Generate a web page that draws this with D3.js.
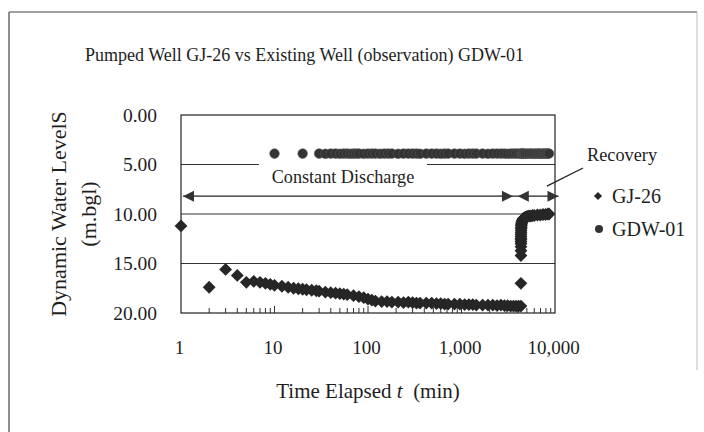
<!DOCTYPE html>
<html><head><meta charset="utf-8">
<script src="https://cdn.jsdelivr.net/npm/d3@7"></script>
<style>
html,body{margin:0;padding:0;background:#fff;}
svg{display:block;}
svg text{font-family:"Liberation Serif","Times New Roman",serif !important;fill:#1e1e1e;}
</style></head>
<body>
<svg id="chart" width="704" height="432"></svg>
<script>
// ---- data ----
const xTicks = [1, 10, 100, 1000, 10000];
const yTicks = [0, 5, 10, 15, 20];

// GJ-26 (pumped well) – pumping phase
const gjPumpT = [1,2,3,4,5,6,7,8,9,10,12,14,16,18,20,22,25,28,30,35,40,45,50,55,60,70,80,90,100,110,120,140,160,180,210,240,270,300,330,360,420,480,540,600,660,720,840,960,1080,1200,1320,1440,1680,1920,2160,2400,2640,2880,3120,3360,3600,3840,4080,4320];
const gjPumpS = [11.2,17.4,15.6,16.2,16.9,16.8,16.9,17.0,17.1,17.2,17.3,17.4,17.5,17.55,17.6,17.65,17.7,17.75,17.8,17.9,17.95,18.0,18.05,18.1,18.15,18.25,18.35,18.45,18.6,18.7,18.8,18.85,18.85,18.9,18.9,18.95,18.9,18.95,19.0,19.0,19.0,19.0,19.05,19.05,19.1,19.1,19.1,19.1,19.15,19.15,19.15,19.2,19.2,19.2,19.2,19.25,19.2,19.25,19.25,19.3,19.3,19.3,19.3,19.3];
// GJ-26 – recovery phase (total elapsed time)
const gjRecT = [4321,4322,4323,4324,4325,4326,4327,4328,4330,4332,4335,4340,4345,4350,4360,4370,4380,4400,4430,4460,4500,4560,4620,4680,4800,4920,5040,5280,5520,5760,6000,6480,6960,7440,7920,8400,8640];
const gjRecS = [17.0,14.2,13.7,13.3,13.0,12.8,12.6,12.5,12.3,12.1,11.9,11.7,11.5,11.4,11.2,11.1,11.0,10.9,10.8,10.7,10.6,10.5,10.45,10.4,10.35,10.3,10.25,10.2,10.2,10.15,10.15,10.1,10.1,10.05,10.05,10.0,10.0];

// GDW-01 (observation well)
const gdwT = [10,20,30,35,40,45,50,55,60,65,70,75,80,90,100,110,120,135,150,165,180,210,240,270,300,330,360,420,480,540,600,660,720,840,960,1080,1200,1320,1440,1680,1920,2160,2400,2640,2880,3120,3360,3600,3840,4080,4320,4380,4440,4560,4680,4800,5040,5280,5520,5760,6000,6240,6480,6720,6960,7200,7440,7680,7920,8160,8400,8640];
const gdwS = [3.9,3.9,3.9,3.92,3.9,3.9,3.92,3.9,3.9,3.92,3.9,3.9,3.9,3.92,3.9,3.9,3.9,3.92,3.9,3.9,3.9,3.92,3.9,3.9,3.9,3.9,3.92,3.9,3.9,3.9,3.92,3.9,3.9,3.9,3.9,3.92,3.9,3.9,3.9,3.9,3.92,3.9,3.9,3.9,3.9,3.92,3.9,3.9,3.9,3.9,3.9,3.92,3.9,3.9,3.9,3.92,3.9,3.9,3.9,3.9,3.92,3.9,3.9,3.9,3.9,3.92,3.9,3.9,3.9,3.9,3.9,3.9];

const seriesNames = ["GJ-26", "GDW-01"];

// annotation anchors (data units)
const annotY = 8.2;
const dischargeSpan = [1, 3550];
const recoverySpan = [4000, 10900];

// ---- build ----
const FONT = "Liberation Serif";
const svg = d3.select("#chart");
const x = d3.scaleLog().domain([1, 10000]).range([181, 555]);
const y = d3.scaleLinear().domain([0, 20]).range([115, 313]);
const ink = "#262626";

// outer frame
svg.append("line").attr("x1", 9).attr("y1", 12).attr("x2", 697).attr("y2", 12).attr("stroke", "#444").attr("stroke-width", 1.2);
svg.append("line").attr("x1", 9).attr("y1", 12).attr("x2", 9).attr("y2", 432).attr("stroke", "#444").attr("stroke-width", 1.2);
svg.append("line").attr("x1", 697).attr("y1", 12).attr("x2", 697).attr("y2", 370).attr("stroke", "#bbb").attr("stroke-width", 1);

// title
svg.append("text").attr("x", 85).attr("y", 61).attr("font-size", 18).attr("font-family", FONT)
  .text("Pumped Well GJ-26 vs Existing Well (observation) GDW-01");

// gridlines
svg.append("g").selectAll("line").data(yTicks.filter(d => d > 0 && d < 20)).join("line")
  .attr("x1", x(1)).attr("x2", x(10000))
  .attr("y1", d => y(d)).attr("y2", d => y(d))
  .attr("stroke", "#333").attr("stroke-width", 1);

// minor ticks on bottom axis (inside)
const minor = x.ticks().filter(t => t > 1 && t < 10000);
svg.append("g").selectAll("line").data(minor).join("line")
  .attr("x1", d => x(d)).attr("x2", d => x(d))
  .attr("y1", y(20)).attr("y2", d => y(20) - (xTicks.includes(d) ? 7 : 5))
  .attr("stroke", "#333").attr("stroke-width", 1);

// plot border
svg.append("rect").attr("x", x(1)).attr("y", y(0))
  .attr("width", x(10000) - x(1)).attr("height", y(20) - y(0))
  .attr("fill", "none").attr("stroke", "#222").attr("stroke-width", 1.2);

// axes
const xAxis = svg.append("g").attr("transform", `translate(-2,${y(20)})`)
  .call(d3.axisBottom(x).tickValues(xTicks).tickSize(0).tickPadding(28).tickFormat(d3.format(",")));
xAxis.attr("font-family", FONT);
xAxis.select(".domain").remove();
xAxis.selectAll("text").attr("font-size", 19).attr("font-family", FONT).attr("fill", "#1e1e1e");

const yAxis = svg.append("g").attr("transform", `translate(${x(1)},0)`)
  .call(d3.axisLeft(y).tickValues(yTicks).tickSize(0).tickPadding(24).tickFormat(d3.format(".2f")));
yAxis.attr("font-family", FONT);
yAxis.select(".domain").remove();
yAxis.selectAll("text").attr("font-size", 19.5).attr("font-family", FONT).attr("fill", "#1e1e1e");

// axis titles
const xt = svg.append("text").attr("x", (x(1) + x(10000)) / 2).attr("y", 398)
  .attr("text-anchor", "middle").attr("font-size", 21).attr("font-family", FONT);
xt.append("tspan").text("Time Elapsed ");
xt.append("tspan").attr("font-style", "italic").text("t");
xt.append("tspan").text("\u00a0 (min)");

const yc = (y(0) + y(20)) / 2;
svg.append("text").attr("transform", `translate(58,${yc}) rotate(-90)`)
  .attr("text-anchor", "middle").attr("dominant-baseline", "central").attr("font-size", 22).attr("font-family", FONT)
  .text("Dynamic Water LevelS");
svg.append("text").attr("transform", `translate(88,${yc}) rotate(-90)`)
  .attr("text-anchor", "middle").attr("dominant-baseline", "central").attr("font-size", 22).attr("font-family", FONT)
  .text("(m.bgl)");

// "Constant Discharge" label box (covers part of gridline)
const cdX = x(54), cdY = y(6.3);
svg.append("rect").attr("x", cdX - 84).attr("y", cdY - 17).attr("width", 168).attr("height", 26).attr("fill", "#fff");
svg.append("text").attr("x", cdX).attr("y", cdY).attr("text-anchor", "middle").attr("font-family", FONT)
  .attr("dominant-baseline", "central").attr("font-size", 18.2).text("Constant Discharge");

// arrow line
const ay = y(annotY);
svg.append("line").attr("x1", x(dischargeSpan[0]) + 2).attr("x2", x(recoverySpan[1]))
  .attr("y1", ay).attr("y2", ay).attr("stroke", "#222").attr("stroke-width", 1.2);
function arrowHead(tipX, dir) {
  const L = 11, H = 5.5;
  svg.append("path")
    .attr("d", `M${tipX},${ay} L${tipX - dir * L},${ay - H} L${tipX - dir * L},${ay + H} Z`)
    .attr("fill", "#333");
}
arrowHead(x(dischargeSpan[0]) + 2, -1);
arrowHead(x(dischargeSpan[1]), 1);
arrowHead(x(recoverySpan[0]), -1);
arrowHead(x(recoverySpan[1]), 1);

// Recovery label + pointer
svg.append("text").attr("x", 587).attr("y", 161).attr("font-size", 18.3).attr("font-family", FONT).text("Recovery");
svg.append("line").attr("x1", 583).attr("y1", 168).attr("x2", x(8200)).attr("y2", ay - 10)
  .attr("stroke", "#222").attr("stroke-width", 1.3);

// data marks
const diamond = d3.symbol().type(d3.symbolSquare).size(82);
const gjAll = gjPumpT.map((t, i) => [t, gjPumpS[i]]).concat(gjRecT.map((t, i) => [t, gjRecS[i]]));
svg.append("g").selectAll("path").data(gjAll).join("path")
  .attr("d", diamond)
  .attr("transform", d => `translate(${x(d[0])},${y(d[1])}) rotate(45)`)
  .attr("fill", ink);

svg.append("g").selectAll("circle").data(gdwT.map((t, i) => [t, gdwS[i]])).join("circle")
  .attr("cx", d => x(d[0])).attr("cy", d => y(d[1])).attr("r", 4.8)
  .attr("fill", "#333").attr("stroke", "#555").attr("stroke-width", 0.6);

// legend
const lg = svg.append("g");
lg.append("path").attr("d", d3.symbol().type(d3.symbolSquare).size(34))
  .attr("transform", "translate(598,196) rotate(45)").attr("fill", ink);
lg.append("text").attr("x", 612).attr("y", 196).attr("dominant-baseline", "central").attr("font-size", 20).attr("font-family", FONT).text(seriesNames[0]);
lg.append("circle").attr("cx", 599).attr("cy", 229).attr("r", 4).attr("fill", "#333");
lg.append("text").attr("x", 612).attr("y", 229).attr("dominant-baseline", "central").attr("font-size", 20).attr("font-family", FONT).text(seriesNames[1]);
</script>
</body></html>
